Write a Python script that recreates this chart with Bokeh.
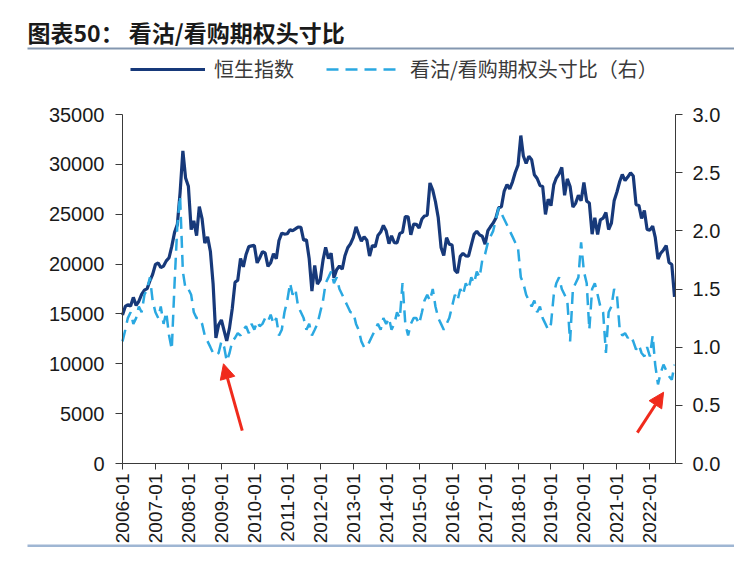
import math
import pandas as pd
from bokeh.plotting import figure
from bokeh.models import (Range1d, LinearAxis, DatetimeAxis, FixedTicker, NumeralTickFormatter,
                          DatetimeTickFormatter, Legend, LegendItem, Arrow, NormalHead,
                          ColumnDataSource, Label, BoxAnnotation)
from bokeh.embed import file_html
from bokeh.resources import INLINE

# ---------------- data ----------------
title_text = "图表50： 看沽/看购期权头寸比"
series_names = ["恒生指数", "看沽/看购期权头寸比（右）"]

# month labels, 2006-01 .. 2022-10
months = [f"{y}-{m:02d}" for y in range(2006, 2023) for m in range(1, 13)][:202]

# Hang Seng Index (left axis), one reading per month
hsi_2006 = [14900, 15750, 15920, 15800, 16660, 15860, 16270, 16970, 17390, 17540, 18320, 18960]
hsi_2007 = [19960, 20110, 19650, 19800, 20320, 20640, 21770, 23180, 23980, 27140, 31350, 28640]
hsi_2008 = [27810, 23460, 24330, 22850, 25760, 24530, 22100, 22730, 21260, 18020, 12600, 13900]
hsi_2009 = [14390, 13280, 12300, 13600, 15520, 18170, 18380, 20570, 19720, 20960, 21750, 21820]
hsi_2010 = [21870, 20120, 20610, 21240, 21110, 19770, 20130, 21030, 20540, 22360, 23100, 23010]
hsi_2011 = [23040, 23450, 23340, 23530, 23720, 23680, 22400, 22440, 20530, 17300, 19860, 17990]
hsi_2012 = [18430, 20390, 21680, 20560, 21090, 18630, 19440, 19800, 19480, 20840, 21640, 22030]
hsi_2013 = [22660, 23730, 23020, 22300, 22740, 22390, 20800, 21880, 21730, 22860, 23210, 23880]
hsi_2014 = [23310, 22040, 22840, 22150, 22130, 23080, 23190, 24760, 24740, 22930, 24000, 23990]
hsi_2015 = [23610, 24510, 24820, 24900, 28130, 27420, 26250, 24640, 21670, 20850, 22640, 22000]
hsi_2016 = [21910, 19400, 19110, 20780, 21070, 20820, 20790, 21890, 22980, 23300, 22930, 22790]
hsi_2017 = [22000, 23360, 23740, 24110, 24620, 25660, 25760, 27320, 27970, 27550, 28250, 29180]
hsi_2018 = [29920, 32890, 30840, 30090, 30810, 30470, 28960, 28580, 27890, 27790, 24980, 26510]
hsi_2019 = [25850, 27940, 28630, 29050, 29700, 26900, 28540, 27780, 25720, 26090, 26910, 26350]
hsi_2020 = [28190, 26310, 26130, 23000, 24640, 22960, 24430, 24600, 25180, 23460, 24110, 26340]
hsi_2021 = [27230, 28280, 28980, 28380, 28720, 29150, 28830, 25960, 25880, 24580, 25380, 23480]
hsi_2022 = [23400, 23800, 22710, 20500, 21090, 21420, 21860, 20160, 19950, 16700]

# put/call open interest ratio (right axis)
pc_2006 = [1.05, 1.15, 1.25, 1.30, 1.20, 1.25, 1.35, 1.30, 1.45, 1.50, 1.60, 1.40]
pc_2007 = [1.30, 1.25, 1.35, 1.20, 1.30, 1.10, 0.98, 1.55, 2.05, 2.30, 1.65, 1.50]
pc_2008 = [1.50, 1.45, 1.30, 1.25, 1.25, 1.20, 1.10, 1.05, 1.00, 0.95, 0.93, 0.95]
pc_2009 = [1.05, 1.00, 0.88, 0.95, 1.05, 1.08, 1.12, 1.10, 1.15, 1.18, 1.12, 1.20]
pc_2010 = [1.15, 1.22, 1.18, 1.20, 1.25, 1.22, 1.28, 1.20, 1.25, 1.10, 1.15, 1.30]
pc_2011 = [1.40, 1.55, 1.45, 1.50, 1.35, 1.30, 1.25, 1.15, 1.20, 1.10, 1.15, 1.20]
pc_2012 = [1.30, 1.40, 1.55, 1.60, 1.65, 1.55, 1.60, 1.50, 1.45, 1.40, 1.35, 1.30]
pc_2013 = [1.30, 1.20, 1.15, 1.05, 1.00, 1.00, 1.05, 1.10, 1.15, 1.20, 1.15, 1.25]
pc_2014 = [1.20, 1.25, 1.15, 1.20, 1.30, 1.25, 1.55, 1.20, 1.10, 1.20, 1.25, 1.25]
pc_2015 = [1.20, 1.30, 1.40, 1.45, 1.40, 1.50, 1.35, 1.25, 1.20, 1.15, 1.20, 1.25]
pc_2016 = [1.35, 1.45, 1.40, 1.50, 1.45, 1.55, 1.50, 1.60, 1.55, 1.65, 1.60, 1.75]
pc_2017 = [1.80, 1.90, 1.95, 2.00, 2.10, 2.20, 2.15, 2.10, 2.05, 2.00, 1.95, 1.90]
pc_2018 = [1.85, 1.60, 1.55, 1.45, 1.40, 1.35, 1.40, 1.30, 1.35, 1.25, 1.20, 1.15]
pc_2019 = [1.20, 1.45, 1.55, 1.60, 1.50, 1.45, 1.40, 1.05, 1.50, 1.55, 1.60, 1.90]
pc_2020 = [1.65, 1.55, 1.15, 1.50, 1.55, 1.45, 1.35, 1.30, 0.95, 1.30, 1.35, 1.50]
pc_2021 = [1.45, 1.15, 1.10, 1.12, 1.08, 1.10, 1.05, 0.98, 1.02, 0.95, 0.92, 1.00]
pc_2022 = [0.92, 1.10, 0.85, 0.68, 0.78, 0.85, 0.80, 0.75, 0.72, 0.85]

# axis ticks
left_ticks = [0, 5000, 10000, 15000, 20000, 25000, 30000, 35000]
right_ticks = [0.0, 0.5, 1.0, 1.5, 2.0, 2.5, 3.0]
x_tick_labels = [f"{y}-01" for y in range(2006, 2023)]
x_start, x_end = "2006-01-01", "2022-10-12"
left_max, right_max = 35000, 3.0

# red arrow annotations (tail -> tip)
arrow_x0 = ["2009-08-20", "2021-08-15"]
arrow_y0 = [3300, 3100]
arrow_x1 = ["2009-01-24", "2022-06-02"]
arrow_y1 = [10000, 7150]

# ---------------- build ----------------
hsi = (hsi_2006 + hsi_2007 + hsi_2008 + hsi_2009 + hsi_2010 + hsi_2011 + hsi_2012 +
       hsi_2013 + hsi_2014 + hsi_2015 + hsi_2016 + hsi_2017 + hsi_2018 + hsi_2019 +
       hsi_2020 + hsi_2021 + hsi_2022)
pc = (pc_2006 + pc_2007 + pc_2008 + pc_2009 + pc_2010 + pc_2011 + pc_2012 + pc_2013 +
      pc_2014 + pc_2015 + pc_2016 + pc_2017 + pc_2018 + pc_2019 + pc_2020 + pc_2021 + pc_2022)
dates = pd.to_datetime([m + "-01" for m in months])


def ms(s):
    return pd.Timestamp(s).value / 1e6


src = ColumnDataSource(dict(date=dates, hsi=hsi, pc=pc))

DARK = "#17397a"
LIGHT = "#2aa8e1"
AXC = "#3a3a3a"
TICKFONT = "Liberation Sans"
CJK = "Noto Sans CJK SC"

# canvas and plotting-area placement (pixels)
W, H = 734, 547
PX_L, PX_R, PX_T, PX_B = 122, 675, 114, 463

t0, t1 = ms(x_start), ms(x_end)
kx = (t1 - t0) / (PX_R - PX_L)
ky = left_max / (PX_B - PX_T)
kr = right_max / (PX_B - PX_T)

p = figure(width=W, height=H, x_axis_type="datetime",
           x_range=Range1d(t0 - PX_L * kx, t0 + (W - PX_L) * kx),
           y_range=Range1d(-(H - PX_B) * ky, left_max + PX_T * ky),
           x_axis_location=None, y_axis_location=None,
           output_backend="svg", toolbar_location=None,
           min_border=0, min_border_left=0, min_border_right=0,
           min_border_top=0, min_border_bottom=0)
p.extra_y_ranges = {"r": Range1d(-(H - PX_B) * kr, right_max + PX_T * kr)}
p.grid.visible = False
p.outline_line_color = None

r1 = p.line("date", "hsi", source=src, line_color=DARK, line_width=3.2)
r2 = p.line("date", "pc", source=src, y_range_name="r", line_color=LIGHT,
            line_width=2.5, line_dash="12 7")

left = LinearAxis(fixed_location=t0, bounds=(0, left_max),
                  ticker=FixedTicker(ticks=left_ticks))
right = LinearAxis(y_range_name="r", fixed_location=t1, bounds=(0, right_max),
                   ticker=FixedTicker(ticks=right_ticks),
                   formatter=NumeralTickFormatter(format="0.0"))
bottom = DatetimeAxis(fixed_location=0, bounds=(t0, t1),
                      ticker=FixedTicker(ticks=[ms(t + "-01") for t in x_tick_labels]),
                      formatter=DatetimeTickFormatter(years="%Y-%m", months="%Y-%m",
                                                      days="%Y-%m"))
p.add_layout(left, "left")
p.add_layout(right, "right")
p.add_layout(bottom, "below")

for ax in [left, right, bottom]:
    ax.axis_line_color = AXC
    ax.axis_line_width = 1
    ax.major_tick_line_color = AXC
    ax.major_tick_out = 7
    ax.major_tick_in = 0
    ax.minor_tick_line_color = None
    ax.major_label_text_font = TICKFONT
    ax.major_label_text_font_size = "20px"
    ax.major_label_text_color = "#1a1a1a"
left.major_label_standoff = 11
right.major_label_standoff = 10
bottom.major_tick_out = 6
bottom.major_label_standoff = 4
bottom.major_label_text_font_size = "19px"
bottom.major_label_orientation = math.pi / 2

# legend (above the plotting area)
legend = Legend(items=[LegendItem(label=series_names[0], renderers=[r1]),
                       LegendItem(label=series_names[1], renderers=[r2])],
                orientation="horizontal", location=(130, H - 83), padding=0, margin=0,
                spacing=32, label_standoff=9, glyph_width=75, glyph_height=20,
                label_text_font=CJK, label_text_font_size="20px",
                label_text_color="#3a3a3a", border_line_color=None,
                background_fill_alpha=0)
p.add_layout(legend, "center")

# title and rules (screen units, from the canvas' bottom-left)
p.add_layout(Label(x=27, y=H - 31.5, x_units="screen", y_units="screen",
                   text=title_text, text_font=CJK, text_font_style="bold",
                   text_font_size="23px", text_color="#1a1a1a",
                   text_baseline="alphabetic"))
p.add_layout(BoxAnnotation(left=27, right=W, top=H - 47, bottom=H - 49,
                           left_units="screen", right_units="screen",
                           top_units="screen", bottom_units="screen",
                           fill_color="#8497b0", fill_alpha=1, line_color=None))
p.add_layout(BoxAnnotation(left=27, right=W, top=3, bottom=0,
                           left_units="screen", right_units="screen",
                           top_units="screen", bottom_units="screen",
                           fill_color="#9fb6d3", fill_alpha=1, line_color=None))

asrc = ColumnDataSource(dict(x0=[ms(d) for d in arrow_x0], y0=arrow_y0,
                             x1=[ms(d) for d in arrow_x1], y1=arrow_y1))
p.add_layout(Arrow(end=NormalHead(size=15, fill_color="#f02a1c", line_color="#f02a1c"),
                   source=asrc, x_start="x0", y_start="y0", x_end="x1", y_end="y1",
                   line_color="#f02a1c", line_width=3))

open("out.html", "w").write(file_html(p, INLINE))
